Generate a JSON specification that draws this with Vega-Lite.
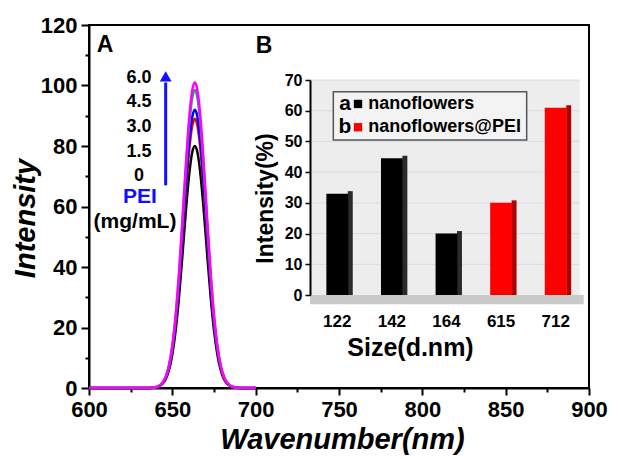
{
  "$schema": "https://vega.github.io/schema/vega-lite/v6.json",
  "width": 500,
  "height": 363,
  "autosize": {"type": "none"},
  "padding": {"left": 89, "top": 25, "right": 29, "bottom": 71},
  "background": "white",
  "config": {"view": {"stroke": "black", "strokeWidth": 2}, "font": "Liberation Sans"},
  "datasets": {
    "spectra": [
      {"wl": 600, "c0": 0, "c15": 0, "c30": 0, "c45": 0, "c60": 0},
      {"wl": 635, "c0": 0.01, "c15": 0.01, "c30": 0.01, "c45": 0.01, "c60": 0.02},
      {"wl": 638, "c0": 0.07, "c15": 0.08, "c30": 0.08, "c45": 0.09, "c60": 0.09},
      {"wl": 641, "c0": 0.34, "c15": 0.37, "c30": 0.39, "c45": 0.41, "c60": 0.42},
      {"wl": 644, "c0": 1.31, "c15": 1.46, "c30": 1.51, "c45": 1.62, "c60": 1.66},
      {"wl": 646, "c0": 2.92, "c15": 3.25, "c30": 3.36, "c45": 3.6, "c60": 3.69},
      {"wl": 648, "c0": 5.95, "c15": 6.62, "c30": 6.84, "c45": 7.33, "c60": 7.51},
      {"wl": 650, "c0": 11.14, "c15": 12.4, "c30": 12.82, "c45": 13.72, "c60": 14.07},
      {"wl": 652, "c0": 19.14, "c15": 21.3, "c30": 22.02, "c45": 23.57, "c60": 24.17},
      {"wl": 654, "c0": 30.14, "c15": 33.54, "c30": 34.67, "c45": 37.11, "c60": 38.06},
      {"wl": 656, "c0": 43.54, "c15": 48.44, "c30": 50.08, "c45": 53.61, "c60": 54.97},
      {"wl": 658, "c0": 57.68, "c15": 64.17, "c30": 66.33, "c45": 71.02, "c60": 72.82},
      {"wl": 660, "c0": 70.07, "c15": 77.96, "c30": 80.58, "c45": 86.28, "c60": 88.47},
      {"wl": 662, "c0": 78.08, "c15": 86.86, "c30": 89.79, "c45": 96.14, "c60": 98.58},
      {"wl": 663.5, "c0": 80, "c15": 89, "c30": 92, "c45": 98.5, "c60": 101},
      {"wl": 665, "c0": 78.08, "c15": 86.86, "c30": 89.79, "c45": 96.14, "c60": 98.58},
      {"wl": 667, "c0": 70.07, "c15": 77.96, "c30": 80.58, "c45": 86.28, "c60": 88.47},
      {"wl": 669, "c0": 57.68, "c15": 64.17, "c30": 66.33, "c45": 71.02, "c60": 72.82},
      {"wl": 671, "c0": 43.54, "c15": 48.44, "c30": 50.08, "c45": 53.61, "c60": 54.97},
      {"wl": 673, "c0": 30.14, "c15": 33.54, "c30": 34.67, "c45": 37.11, "c60": 38.06},
      {"wl": 675, "c0": 19.14, "c15": 21.3, "c30": 22.02, "c45": 23.57, "c60": 24.17},
      {"wl": 677, "c0": 11.14, "c15": 12.4, "c30": 12.82, "c45": 13.72, "c60": 14.07},
      {"wl": 679, "c0": 5.95, "c15": 6.62, "c30": 6.84, "c45": 7.33, "c60": 7.51},
      {"wl": 681, "c0": 2.92, "c15": 3.25, "c30": 3.36, "c45": 3.6, "c60": 3.69},
      {"wl": 683, "c0": 1.31, "c15": 1.46, "c30": 1.51, "c45": 1.62, "c60": 1.66},
      {"wl": 686, "c0": 0.34, "c15": 0.37, "c30": 0.39, "c45": 0.41, "c60": 0.42},
      {"wl": 689, "c0": 0.07, "c15": 0.08, "c30": 0.08, "c45": 0.09, "c60": 0.09},
      {"wl": 692, "c0": 0.01, "c15": 0.01, "c30": 0.01, "c45": 0.01, "c60": 0.02},
      {"wl": 700, "c0": 0, "c15": 0, "c30": 0, "c45": 0, "c60": 0}
    ],
    "bars": [
      {"size": "122", "value": 33, "sample": "nanoflowers"},
      {"size": "142", "value": 44.5, "sample": "nanoflowers"},
      {"size": "164", "value": 20, "sample": "nanoflowers"},
      {"size": "615", "value": 30, "sample": "nanoflowers@PEI"},
      {"size": "712", "value": 61, "sample": "nanoflowers@PEI"}
    ],
    "grid": [{"g": 10}, {"g": 20}, {"g": 30}, {"g": 40}, {"g": 50}, {"g": 60}, {"g": 70}],
    "conc": [
      {"label": "6.0", "x": 630, "y": 102.4},
      {"label": "4.5", "x": 630, "y": 94.4},
      {"label": "3.0", "x": 630, "y": 86.4},
      {"label": "1.5", "x": 630, "y": 78.1},
      {"label": "0", "x": 630, "y": 70.2}
    ],
    "panels": [
      {"t": "A", "x": 609.6, "y": 113.4},
      {"t": "B", "x": 705, "y": 113.1}
    ],
    "legend": [
      {"letter": "a", "sample": "nanoflowers", "y": 93.9},
      {"letter": "b", "sample": "nanoflowers@PEI", "y": 86.2}
    ]
  },
  "resolve": {"scale": {"x": "independent", "y": "independent", "color": "independent", "fill": "independent"}},
  "layer": [
    {
      "data": {"name": "spectra"},
      "transform": [{"fold": ["c0", "c15", "c30", "c45", "c60"], "as": ["conc", "intensity"]}],
      "mark": {"type": "line", "strokeWidth": 2.5, "interpolate": "monotone"},
      "encoding": {
        "x": {
          "field": "wl", "type": "quantitative",
          "scale": {"domain": [600, 900], "nice": false, "zero": false},
          "axis": {
            "title": "Wavenumber(nm)",
            "values": [600, 625, 650, 675, 700, 725, 750, 775, 800, 825, 850, 875, 900],
            "labelExpr": "datum.value % 50 === 0 ? datum.label : ''",
            "tickSize": {"condition": {"test": "datum.value % 50 === 0", "value": 7}, "value": 4},
            "tickWidth": 2, "tickColor": "black", "domainColor": "black", "domainWidth": 2,
            "labelFont": "Liberation Sans", "labelFontWeight": "bold", "labelFontSize": 22, "labelColor": "black",
            "labelPadding": 4, "labelOverlap": false, "labelFlush": false, "grid": false,
            "titleFont": "Liberation Sans", "titleFontSize": 29, "titleFontWeight": "bold", "titleFontStyle": "italic",
            "titleColor": "black", "titleBaseline": "alphabetic", "titleAlign": "center", "titleX": 253, "titleY": 60
          }
        },
        "y": {
          "field": "intensity", "type": "quantitative",
          "scale": {"domain": [0, 120], "nice": false},
          "axis": {
            "title": "Intensity",
            "values": [0, 10, 20, 30, 40, 50, 60, 70, 80, 90, 100, 110, 120],
            "labelExpr": "datum.value % 20 === 0 ? datum.label : ''",
            "tickSize": {"condition": {"test": "datum.value % 20 === 0", "value": 8}, "value": 4},
            "tickWidth": 2, "tickColor": "black", "domainColor": "black", "domainWidth": 2,
            "labelFont": "Liberation Sans", "labelFontWeight": "bold", "labelFontSize": 22, "labelColor": "black",
            "labelPadding": 4, "labelOverlap": false, "labelFlush": false, "grid": false,
            "titleFont": "Liberation Sans", "titleFontSize": 29, "titleFontWeight": "bold", "titleFontStyle": "italic",
            "titleColor": "black", "titleAngle": 270, "titleBaseline": "middle", "titleAlign": "center", "titleX": -64, "titleY": 193
          }
        },
        "color": {
          "field": "conc", "type": "nominal",
          "scale": {"domain": ["c0", "c15", "c30", "c45", "c60"], "range": ["#000000", "#ff0000", "#0000ff", "#2e9688", "#ff00ff"]},
          "legend": null
        }
      }
    },
    {
      "encoding": {
        "x": {
          "field": "size", "type": "nominal", "sort": null,
          "scale": {"domain": ["122", "142", "164", "615", "712"], "range": [221, 494], "paddingInner": 0, "paddingOuter": 0},
          "axis": {
            "orient": "bottom", "offset": -80, "title": "Size(d.nm)", "domain": false, "ticks": false, "grid": false,
            "labelAngle": 0, "labelFont": "Liberation Sans", "labelFontWeight": "bold", "labelFontSize": 17, "labelColor": "black", "labelPadding": 5,
            "titleFont": "Liberation Sans", "titleFontSize": 25, "titleFontWeight": "bold", "titleColor": "black",
            "titleBaseline": "alphabetic", "titleAlign": "center", "titleX": 321, "titleY": 47
          }
        }
      },
      "layer": [
        {
          "data": {"values": [{"part": "wall"}]},
          "mark": {"type": "rect", "color": "#ededed", "xOffset": -27.3, "x2Offset": 24},
          "encoding": {
            "x": {"datum": "122", "bandPosition": 0.5},
            "x2": {"datum": "712", "bandPosition": 0.5},
            "y": {
              "datum": 70, "type": "quantitative", "title": "Intensity(%)",
              "scale": {"domain": [0, 70], "range": [270, 55], "nice": false, "zero": false},
              "axis": {
                "orient": "left", "offset": -221, "zindex": 1, "grid": false,
                "values": [0, 10, 20, 30, 40, 50, 60, 70],
                "domainColor": "black", "domainWidth": 2, "tickColor": "black", "tickWidth": 1.5, "tickSize": 5,
                "labelFont": "Liberation Sans", "labelFontWeight": "bold", "labelFontSize": 16, "labelColor": "black", "labelPadding": 3,
                "title": "Intensity(%)", "titleFont": "Liberation Sans", "titleFontSize": 23, "titleFontWeight": "bold", "titleColor": "black",
                "titleAngle": 270, "titleAlign": "center", "titleBaseline": "middle", "titleX": -45, "titleY": 173
              }
            },
            "y2": {"datum": 0}
          }
        },
        {
          "data": {"values": [{"part": "floor"}]},
          "mark": {"type": "rect", "color": "#c9c9c9", "xOffset": -27.3, "x2Offset": 28},
          "encoding": {
            "x": {"datum": "122", "bandPosition": 0.5},
            "x2": {"datum": "712", "bandPosition": 0.5},
            "y": {"datum": 0, "type": "quantitative", "title": "Intensity(%)"},
            "y2": {"datum": -3}
          }
        },
        {
          "data": {"name": "grid"},
          "mark": {"type": "rule", "color": "#d3dce8", "strokeWidth": 1, "xOffset": -27.3, "x2Offset": 24},
          "encoding": {
            "x": {"datum": "122", "bandPosition": 0.5},
            "x2": {"datum": "712", "bandPosition": 0.5},
            "y": {"field": "g", "type": "quantitative", "title": "Intensity(%)"}
          }
        },
        {
          "data": {"name": "bars"},
          "mark": {"type": "bar", "width": {"band": 0.09}, "xOffset": 13, "yOffset": -2.5},
          "encoding": {
            "x": {"field": "size", "type": "nominal", "sort": null},
            "y": {"field": "value", "type": "quantitative", "title": "Intensity(%)"},
            "y2": {"datum": 0},
            "fill": {"field": "sample", "type": "nominal", "scale": {"domain": ["nanoflowers", "nanoflowers@PEI"], "range": ["#2a2a2a", "#b00000"]}, "legend": null}
          }
        },
        {
          "data": {"name": "bars"},
          "mark": {"type": "bar", "width": {"band": 0.4}},
          "encoding": {
            "x": {"field": "size", "type": "nominal", "sort": null},
            "y": {"field": "value", "type": "quantitative", "title": "Intensity(%)"},
            "y2": {"datum": 0},
            "color": {"field": "sample", "type": "nominal", "scale": {"domain": ["nanoflowers", "nanoflowers@PEI"], "range": ["#000000", "#ff0000"]}, "legend": null}
          }
        }
      ]
    },
    {
      "layer": [
        {
          "data": {"name": "conc"},
          "mark": {"type": "text", "font": "Liberation Sans", "fontWeight": "bold", "fontSize": 18, "align": "center", "baseline": "middle", "color": "black"},
          "encoding": {
            "x": {"field": "x", "type": "quantitative", "scale": {"domain": [600, 900], "nice": false, "zero": false}, "axis": null},
            "y": {"field": "y", "type": "quantitative", "scale": {"domain": [0, 120], "nice": false}, "axis": null},
            "text": {"field": "label"}
          }
        },
        {
          "data": {"name": "panels"},
          "mark": {"type": "text", "font": "Liberation Sans", "fontWeight": "bold", "fontSize": 23, "align": "center", "baseline": "middle", "color": "black"},
          "encoding": {
            "x": {"field": "x", "type": "quantitative"},
            "y": {"field": "y", "type": "quantitative"},
            "text": {"field": "t"}
          }
        },
        {
          "data": {"values": [{"t": "PEI"}]},
          "mark": {"type": "text", "font": "Liberation Sans", "fontWeight": "bold", "fontSize": 21, "align": "center", "baseline": "middle", "color": "#1010ff"},
          "encoding": {"x": {"datum": 630.6, "type": "quantitative"}, "y": {"datum": 63.2, "type": "quantitative"}, "text": {"field": "t"}}
        },
        {
          "data": {"values": [{"t": "(mg/mL)"}]},
          "mark": {"type": "text", "font": "Liberation Sans", "fontWeight": "bold", "fontSize": 21, "align": "center", "baseline": "middle", "color": "black"},
          "encoding": {"x": {"datum": 627.6, "type": "quantitative"}, "y": {"datum": 54.9, "type": "quantitative"}, "text": {"field": "t"}}
        },
        {
          "data": {"values": [{"part": "arrow"}]},
          "mark": {"type": "rule", "color": "#1010ff", "strokeWidth": 3},
          "encoding": {"x": {"datum": 646, "type": "quantitative"}, "y": {"datum": 67, "type": "quantitative"}, "y2": {"datum": 101}}
        },
        {
          "data": {"values": [{"part": "arrowhead"}]},
          "mark": {"type": "point", "shape": "triangle-up", "filled": true, "size": 140, "color": "#1010ff", "opacity": 1},
          "encoding": {"x": {"datum": 646, "type": "quantitative"}, "y": {"datum": 103, "type": "quantitative"}}
        },
        {
          "data": {"values": [{"part": "legendbox"}]},
          "mark": {"type": "rect", "fill": "#f3f3f3", "stroke": "#555555", "strokeWidth": 1.5},
          "encoding": {"x": {"datum": 746.6, "type": "quantitative"}, "x2": {"datum": 862.6}, "y": {"datum": 97.95, "type": "quantitative"}, "y2": {"datum": 82}}
        },
        {
          "data": {"name": "legend"},
          "mark": {"type": "text", "font": "Liberation Sans", "fontWeight": "bold", "fontSize": 21, "align": "center", "baseline": "middle", "color": "black"},
          "encoding": {"x": {"datum": 753.6, "type": "quantitative"}, "y": {"field": "y", "type": "quantitative"}, "text": {"field": "letter"}}
        },
        {
          "data": {"name": "legend"},
          "mark": {"type": "point", "shape": "square", "filled": true, "size": 70, "opacity": 1},
          "encoding": {
            "x": {"datum": 761.4, "type": "quantitative"},
            "y": {"field": "y", "type": "quantitative"},
            "color": {"field": "sample", "type": "nominal", "scale": {"domain": ["nanoflowers", "nanoflowers@PEI"], "range": ["#000000", "#ff0000"]}, "legend": null}
          }
        },
        {
          "data": {"name": "legend"},
          "mark": {"type": "text", "font": "Liberation Sans", "fontWeight": "bold", "fontSize": 18, "align": "left", "baseline": "middle", "color": "black"},
          "encoding": {"x": {"datum": 767.6, "type": "quantitative"}, "y": {"field": "y", "type": "quantitative"}, "text": {"field": "sample"}}
        }
      ]
    }
  ]
}
